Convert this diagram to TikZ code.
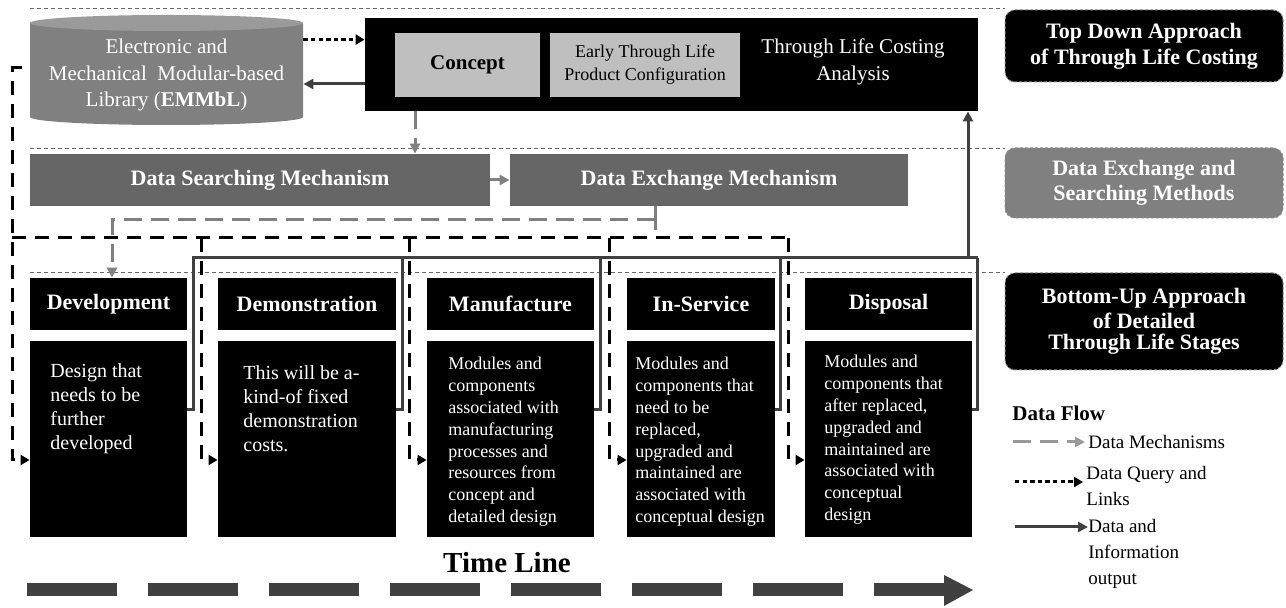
\documentclass[tikz,border=0pt]{standalone}
\usepackage{fontspec}
\setmainfont{Liberation Serif}
\usetikzlibrary{arrows.meta,calc}
\definecolor{mechbox}{HTML}{666666}
\definecolor{cylgray}{HTML}{808080}
\definecolor{cyltop}{HTML}{9A9A9A}
\definecolor{lightbox}{HTML}{BFBFBF}
\definecolor{outgray}{HTML}{404040}
\definecolor{mechgray}{HTML}{808080}
\definecolor{lblgray}{HTML}{808080}
\newcommand{\myfs}[2]{\fontsize{#1}{#2}\selectfont}
\tikzset{
  sepline/.style={draw=black!60, line width=0.4pt, dash pattern=on 2pt off 1.5pt},
  qryline/.style={draw=black, line width=1.5pt, dash pattern=on 7pt off 4.5pt},
  qry/.style={qryline, -{Triangle[length=4.5pt,width=5pt]}},
  dotq/.style={draw=black, line width=1.5pt, dash pattern=on 2.2pt off 1.6pt, -{Triangle[length=4.5pt,width=5pt]}},
  outl/.style={draw=outgray, line width=1.5pt},
  outa/.style={outl, -{Triangle[length=5pt,width=5pt]}},
  mech/.style={draw=mechgray, line width=1.5pt, dash pattern=on 9pt off 4.5pt},
  mecha/.style={mech, -{Triangle[length=5pt,width=5pt]}},
  hdr/.style={fill=black, text=white, font=\bfseries\myfs{11}{13}, minimum height=26pt, inner sep=0pt},
  bodybox/.style={fill=black, minimum height=98pt, inner sep=0pt},
  btext/.style={text=white, align=left, inner sep=0pt, anchor=north west},
  bigtext/.style={btext, font=\myfs{10}{12}},
  smalltext/.style={btext, font=\myfs{9}{10.9}},
  mechnode/.style={fill=mechbox, text=white, font=\bfseries\myfs{11}{13}, minimum height=26pt, inner sep=0pt},
  lblbox/.style={rounded corners=5pt, draw=black!45, dash pattern=on 1.5pt off 1pt, line width=0.5pt, text=white, font=\bfseries\myfs{11}{13}, align=center, minimum width=139pt, inner sep=0pt},
  lgtext/.style={font=\myfs{9.5}{13}, align=left, inner sep=0pt, anchor=west},
}
\begin{document}
\begin{tikzpicture}[x=0.5pt,y=-0.5pt]
\useasboundingbox (0,0) rectangle (1286,608);

% separators
\draw[sepline] (30,8) -- (1005,8);
\draw[sepline] (30,148) -- (1005,148);
\draw[sepline] (30,272) -- (1005,272);

% cylinder library
\fill[cylgray] (30,23) -- (30,117) arc[start angle=180, end angle=360, x radius=68.25pt, y radius=4pt] -- (303,23) -- cycle;
\fill[cyltop] (166.5,23) ellipse[x radius=68.25pt, y radius=4pt];
\node[text=white, font=\myfs{10.5}{13.25}, align=center, minimum width=136.5pt, minimum height=55pt, inner sep=0pt] (lib) at (166.5,75)
  {Electronic and\\Mechanical~~Modular-based\\Library (\textbf{EMMbL})};

% top box
\node[fill=black, minimum width=306.5pt, minimum height=46.5pt, inner sep=0pt] (top) at (671.5,64.5) {};
\node[fill=lightbox, minimum width=72.5pt, minimum height=32pt, inner sep=0pt, font=\bfseries\myfs{10.5}{12}] (concept) at (467.5,65) {Concept};
\node[fill=lightbox, minimum width=95pt, minimum height=32pt, inner sep=0pt, font=\myfs{9}{11.5}, align=center] (early) at (645,65) {Early Through Life\\Product Configuration};
\node[text=white, font=\myfs{10.5}{13.5}, align=center, inner sep=0pt] (tlc) at (853,62) {Through Life Costing\\Analysis};

% mechanisms
\node[mechnode, minimum width=230pt] (search) at (260,180) {Data Searching Mechanism};
\node[mechnode, minimum width=199pt] (exch) at (709,180) {Data Exchange Mechanism};

% right labels
\node[lblbox, fill=black, minimum height=36pt] (tda) at (1144,46) {Top Down Approach\\of Through Life Costing};
\node[lblbox, fill=lblgray, minimum height=35pt, font=\bfseries\myfs{11}{12.5}] (dex) at (1144,183) {Data Exchange and\\Searching Methods};
\node[lblbox, fill=black, minimum height=48.5pt, font=\bfseries\myfs{11}{12.5}] (bua) at (1144,321.5) {Bottom-Up Approach\\of Detailed\\[-2pt]Through Life Stages};

% stages
\node[hdr, minimum width=78.5pt] (devh) at (108.5,304) {Development};
\node[bodybox, minimum width=78.5pt] (dev) at (108.5,439) {};
\node[bigtext] (devt) at (50,363) {Design that\\needs to be\\further\\developed};

\node[hdr, minimum width=89pt] (demh) at (307,304) {Demonstration};
\node[bodybox, minimum width=89pt] (dem) at (307,439) {};
\node[bigtext] (demt) at (243,365) {This will be a-\\kind-of fixed\\demonstration\\costs.};

\node[hdr, minimum width=83.5pt] (manh) at (510.5,304) {Manufacture};
\node[bodybox, minimum width=83.5pt] (man) at (510.5,439) {};
\node[smalltext] (mant) at (448,357) {Modules and\\components\\associated with\\manufacturing\\processes and\\resources from\\concept and\\detailed design};

\node[hdr, minimum width=74pt] (insh) at (701,304) {In-Service};
\node[bodybox, minimum width=74pt] (ins) at (701,439) {};
\node[smalltext] (inst) at (635,357) {Modules and\\components that\\need to be\\replaced,\\upgraded and\\maintained are\\associated with\\conceptual design};

\node[hdr, minimum width=83.5pt] (dish) at (888.5,304) {Disposal};
\node[bodybox, minimum width=83.5pt] (dis) at (888.5,439) {};
\node[smalltext] (dist) at (824,355) {Modules and\\components that\\after replaced,\\upgraded and\\maintained are\\associated with\\conceptual\\design};

% library <-> top box
\draw[dotq] ([yshift=-10pt]lib.north east) -- ([yshift=-10pt]lib.north east -| top.west);
\draw[outa] (top.west |- 0,84) -- (lib.east |- 0,84);

% concept -> search, search -> exchange
\draw[mecha] (top.south -| 415,0) -- (search.north -| 415,0);
\draw[mecha, dash pattern=on 8pt off 2pt] (search.east) -- (exch.west);
\draw[mech, dash pattern=] (exch.south -| 655,0) -- (655,230);
\draw[mecha] (655,220) -- (112,220) -- (devh.north -| 112,0);

% black dashed query lines
\draw[qry] (22,68) -| (12,460) -- (dev.west |- 0,460);
\draw[qryline] (12,238) -- (788,238);
\draw[qry] (201,238) -- (201,460) -- (dem.west |- 0,460);
\draw[qry] (409,238) -- (409,460) -- (man.west |- 0,460);
\draw[qry] (609,238) -- (609,460) -- (ins.west |- 0,460);
\draw[qry] (788,238) -- (788,460) -- (dis.west |- 0,460);

% gray output lines
\draw[outl] (dev.east |- 0,410) -- (193,410) -- (193,258);
\draw[outl] (dem.east |- 0,410) -- (402,410) -- (402,258);
\draw[outl] (man.east |- 0,410) -- (600,410) -- (600,258);
\draw[outl] (ins.east |- 0,410) -- (780,410) -- (780,258);
\draw[outl] (dis.east |- 0,410) -- (977,410) -- (977,258);
\draw[outl] (192.25,258) -- (977.75,258);
\draw[outa] (968,258) -- (top.south -| 968,0);

% legend
\node[font=\bfseries\myfs{10.5}{12}, anchor=west, inner sep=0pt] (lgd) at (1012,413) {Data Flow};
\coordinate (l1a) at (1013,442); \coordinate (l1b) at (1085,442);
\draw[mecha, draw=mechgray!80] (l1a) -- (l1b);
\node[lgtext] (l1) at (1088,442) {Data Mechanisms};
\coordinate (l2a) at (1015,482); \coordinate (l2b) at (1083,482);
\draw[dotq] (l2a) -- (l2b);
\node[lgtext, anchor=north west] (l2) at (1086,466) {Data Query and\\Links};
\coordinate (l3a) at (1015,527); \coordinate (l3b) at (1088,527);
\draw[outa] (l3a) -- (l3b);
\node[lgtext, anchor=north west] (l3) at (1088,519) {Data and\\Information\\output};

% time line
\node[font=\bfseries\myfs{14.5}{16}, inner sep=0pt] (tl) at (507,563) {Time Line};
\draw[outgray, line width=6.5pt, dash pattern=on 45pt off 15.5pt] (27,590) -- (946,590);
\fill[outgray] (944,575) -- (973,590) -- (944,606) -- cycle;
\end{tikzpicture}
\end{document}
